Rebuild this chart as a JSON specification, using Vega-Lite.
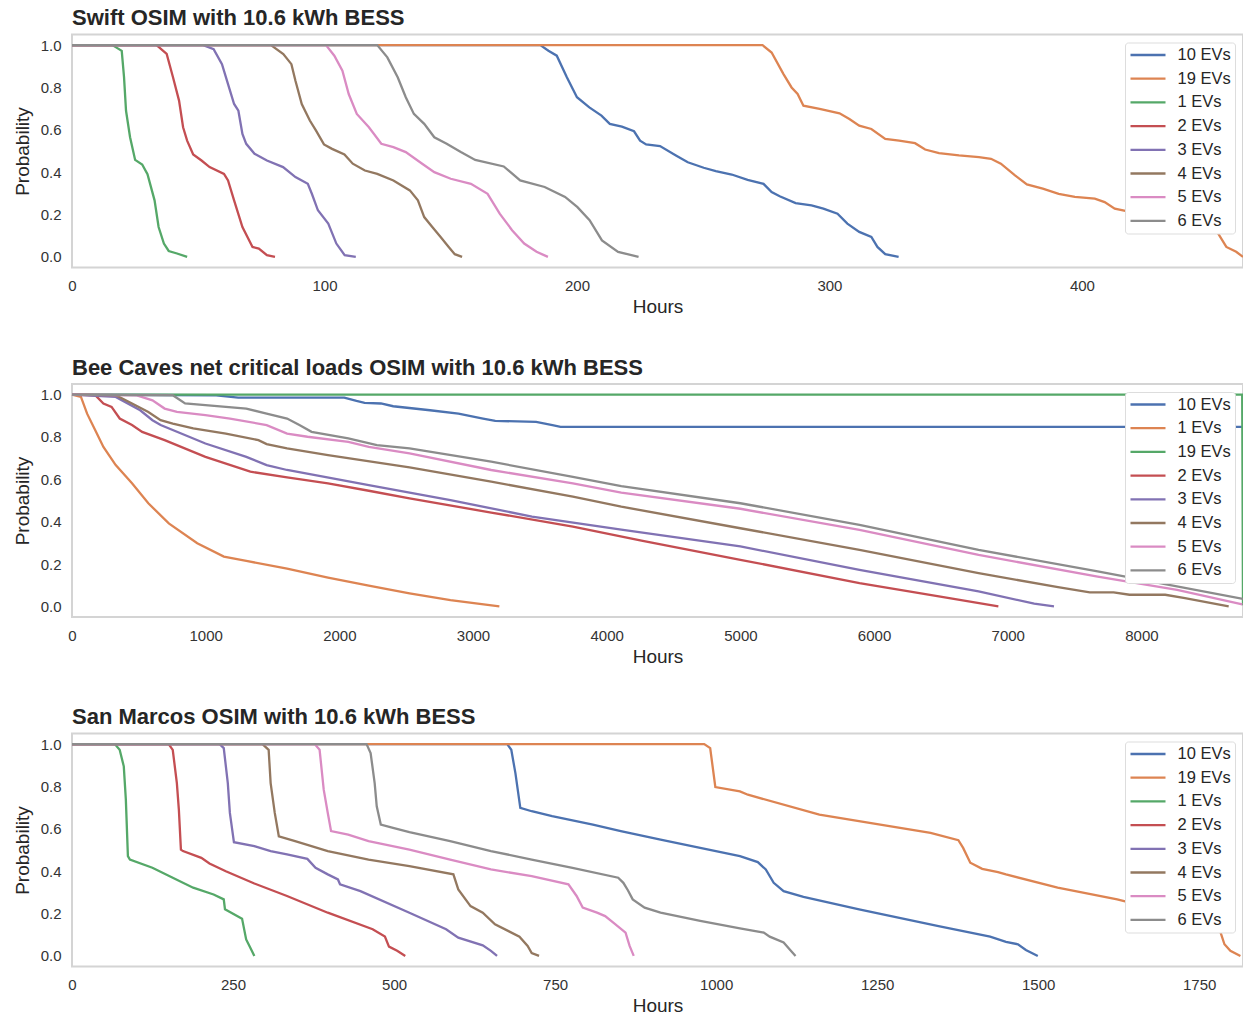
{
  "$schema": "https://vega.github.io/schema/vega-lite/v6.json",
  "background": "white",
  "padding": {"left": 12, "top": 5.5, "right": 1, "bottom": 0},
  "spacing": 37.5,
  "config": {
    "font": "Liberation Sans",
    "view": {"stroke": "#d4d4d4", "strokeWidth": 2},
    "axis": {"grid": false, "domain": false, "ticks": false, "labelFontSize": 15, "labelColor": "#333333", "titleFontSize": 19, "titleFontWeight": "normal", "titleColor": "#262626", "labelPadding": 11},
    "axisX": {"titlePadding": 4, "format": "d", "labelFlush": false},
    "axisY": {"titlePadding": 8},
    "title": {"fontSize": 22, "fontWeight": "bold", "anchor": "start", "frame": "group", "color": "#262626", "offset": 4.5},
    "legend": {"orient": "top-right", "offset": 8, "padding": 4, "fillColor": "white", "strokeColor": "#dddddd", "cornerRadius": 3, "labelFontSize": 16.5, "labelColor": "#262626", "symbolType": "stroke", "symbolSize": 1225, "symbolStrokeWidth": 2.5, "clipHeight": 17, "rowPadding": 6.7, "labelOffset": 10.5, "title": null},
    "line": {"strokeWidth": 2.3}
  },
  "resolve": {"scale": {"color": "independent", "x": "independent", "y": "independent"}, "legend": {"color": "independent"}},
  "datasets": {
    "swift": [
      {"s":"10 EVs","h":0,"p":1},{"s":"10 EVs","h":185.5,"p":1},{"s":"10 EVs","h":188.7,"p":0.973},{"s":"10 EVs","h":192,"p":0.95},{"s":"10 EVs","h":196,"p":0.848},{"s":"10 EVs","h":200,"p":0.754},{"s":"10 EVs","h":204.9,"p":0.706},{"s":"10 EVs","h":209.7,"p":0.667},{"s":"10 EVs","h":213,"p":0.628},{"s":"10 EVs","h":217.8,"p":0.615},{"s":"10 EVs","h":222.6,"p":0.593},{"s":"10 EVs","h":225,"p":0.549},{"s":"10 EVs","h":227.4,"p":0.531},{"s":"10 EVs","h":232.9,"p":0.523},{"s":"10 EVs","h":239.2,"p":0.479},{"s":"10 EVs","h":243.9,"p":0.447},{"s":"10 EVs","h":250.2,"p":0.421},{"s":"10 EVs","h":255,"p":0.405},{"s":"10 EVs","h":261.3,"p":0.389},{"s":"10 EVs","h":267.6,"p":0.364},{"s":"10 EVs","h":273.9,"p":0.345},{"s":"10 EVs","h":277.1,"p":0.306},{"s":"10 EVs","h":280.3,"p":0.286},{"s":"10 EVs","h":286.6,"p":0.254},{"s":"10 EVs","h":292.9,"p":0.243},{"s":"10 EVs","h":297.6,"p":0.228},{"s":"10 EVs","h":303.2,"p":0.204},{"s":"10 EVs","h":307.1,"p":0.157},{"s":"10 EVs","h":311.8,"p":0.118},{"s":"10 EVs","h":316.6,"p":0.094},{"s":"10 EVs","h":319,"p":0.047},{"s":"10 EVs","h":322.1,"p":0.013},{"s":"10 EVs","h":327.4,"p":0},
      {"s":"19 EVs","h":0,"p":1},{"s":"19 EVs","h":273.5,"p":1},{"s":"19 EVs","h":277.1,"p":0.965},{"s":"19 EVs","h":281.8,"p":0.863},{"s":"19 EVs","h":285,"p":0.8},{"s":"19 EVs","h":287.4,"p":0.769},{"s":"19 EVs","h":289.7,"p":0.714},{"s":"19 EVs","h":296.1,"p":0.699},{"s":"19 EVs","h":304,"p":0.678},{"s":"19 EVs","h":307.9,"p":0.651},{"s":"19 EVs","h":311.8,"p":0.62},{"s":"19 EVs","h":316.6,"p":0.604},{"s":"19 EVs","h":322.1,"p":0.557},{"s":"19 EVs","h":327.6,"p":0.549},{"s":"19 EVs","h":333.9,"p":0.537},{"s":"19 EVs","h":337.9,"p":0.507},{"s":"19 EVs","h":343.4,"p":0.49},{"s":"19 EVs","h":351.3,"p":0.479},{"s":"19 EVs","h":359.2,"p":0.471},{"s":"19 EVs","h":364,"p":0.463},{"s":"19 EVs","h":367.9,"p":0.44},{"s":"19 EVs","h":373.5,"p":0.385},{"s":"19 EVs","h":378.2,"p":0.342},{"s":"19 EVs","h":384.5,"p":0.322},{"s":"19 EVs","h":390.8,"p":0.298},{"s":"19 EVs","h":397.2,"p":0.283},{"s":"19 EVs","h":405.1,"p":0.275},{"s":"19 EVs","h":409,"p":0.259},{"s":"19 EVs","h":413,"p":0.228},{"s":"19 EVs","h":422.4,"p":0.204},{"s":"19 EVs","h":435.1,"p":0.192},{"s":"19 EVs","h":447.7,"p":0.173},{"s":"19 EVs","h":450.9,"p":0.149},{"s":"19 EVs","h":454,"p":0.11},{"s":"19 EVs","h":457.2,"p":0.047},{"s":"19 EVs","h":461.1,"p":0.024},{"s":"19 EVs","h":463.8,"p":0},
      {"s":"1 EVs","h":0,"p":1},{"s":"1 EVs","h":16,"p":1},{"s":"1 EVs","h":19.7,"p":0.973},{"s":"1 EVs","h":20.6,"p":0.85},{"s":"1 EVs","h":21.4,"p":0.69},{"s":"1 EVs","h":23,"p":0.565},{"s":"1 EVs","h":25,"p":0.458},{"s":"1 EVs","h":27.8,"p":0.436},{"s":"1 EVs","h":29.9,"p":0.39},{"s":"1 EVs","h":32.7,"p":0.267},{"s":"1 EVs","h":34.3,"p":0.141},{"s":"1 EVs","h":36.4,"p":0.063},{"s":"1 EVs","h":38.3,"p":0.028},{"s":"1 EVs","h":41.6,"p":0.016},{"s":"1 EVs","h":45.6,"p":0},
      {"s":"2 EVs","h":0,"p":1},{"s":"2 EVs","h":33.5,"p":1},{"s":"2 EVs","h":37.5,"p":0.958},{"s":"2 EVs","h":40,"p":0.848},{"s":"2 EVs","h":42.4,"p":0.738},{"s":"2 EVs","h":44,"p":0.612},{"s":"2 EVs","h":45.6,"p":0.549},{"s":"2 EVs","h":48,"p":0.484},{"s":"2 EVs","h":51.3,"p":0.455},{"s":"2 EVs","h":54.5,"p":0.424},{"s":"2 EVs","h":60.2,"p":0.392},{"s":"2 EVs","h":61.8,"p":0.361},{"s":"2 EVs","h":64.2,"p":0.267},{"s":"2 EVs","h":67.5,"p":0.141},{"s":"2 EVs","h":71.5,"p":0.047},{"s":"2 EVs","h":74,"p":0.039},{"s":"2 EVs","h":77.2,"p":0.008},{"s":"2 EVs","h":80.4,"p":0},
      {"s":"3 EVs","h":0,"p":1},{"s":"3 EVs","h":52,"p":1},{"s":"3 EVs","h":56.1,"p":0.981},{"s":"3 EVs","h":59.4,"p":0.91},{"s":"3 EVs","h":61.8,"p":0.816},{"s":"3 EVs","h":64.2,"p":0.722},{"s":"3 EVs","h":65.9,"p":0.69},{"s":"3 EVs","h":67.5,"p":0.581},{"s":"3 EVs","h":69,"p":0.534},{"s":"3 EVs","h":72.3,"p":0.487},{"s":"3 EVs","h":77.2,"p":0.455},{"s":"3 EVs","h":83.6,"p":0.424},{"s":"3 EVs","h":88.5,"p":0.377},{"s":"3 EVs","h":93.4,"p":0.345},{"s":"3 EVs","h":95,"p":0.298},{"s":"3 EVs","h":97.4,"p":0.22},{"s":"3 EVs","h":101.5,"p":0.157},{"s":"3 EVs","h":104.7,"p":0.063},{"s":"3 EVs","h":108,"p":0.008},{"s":"3 EVs","h":112.4,"p":0},
      {"s":"4 EVs","h":0,"p":1},{"s":"4 EVs","h":78.8,"p":1},{"s":"4 EVs","h":83.7,"p":0.958},{"s":"4 EVs","h":86.9,"p":0.91},{"s":"4 EVs","h":88.5,"p":0.832},{"s":"4 EVs","h":91,"p":0.722},{"s":"4 EVs","h":94.2,"p":0.644},{"s":"4 EVs","h":96.6,"p":0.597},{"s":"4 EVs","h":99.8,"p":0.531},{"s":"4 EVs","h":103,"p":0.51},{"s":"4 EVs","h":107.9,"p":0.484},{"s":"4 EVs","h":111.2,"p":0.44},{"s":"4 EVs","h":116,"p":0.408},{"s":"4 EVs","h":120.9,"p":0.392},{"s":"4 EVs","h":127.3,"p":0.361},{"s":"4 EVs","h":133.8,"p":0.314},{"s":"4 EVs","h":137,"p":0.267},{"s":"4 EVs","h":139.5,"p":0.188},{"s":"4 EVs","h":142.7,"p":0.141},{"s":"4 EVs","h":146,"p":0.094},{"s":"4 EVs","h":149.2,"p":0.047},{"s":"4 EVs","h":151.6,"p":0.013},{"s":"4 EVs","h":154.5,"p":0},
      {"s":"5 EVs","h":0,"p":1},{"s":"5 EVs","h":100.6,"p":1},{"s":"5 EVs","h":103.9,"p":0.95},{"s":"5 EVs","h":107.1,"p":0.879},{"s":"5 EVs","h":109.6,"p":0.769},{"s":"5 EVs","h":112.8,"p":0.675},{"s":"5 EVs","h":117.6,"p":0.612},{"s":"5 EVs","h":122.5,"p":0.534},{"s":"5 EVs","h":127.3,"p":0.518},{"s":"5 EVs","h":132.2,"p":0.495},{"s":"5 EVs","h":138.7,"p":0.44},{"s":"5 EVs","h":143.5,"p":0.4},{"s":"5 EVs","h":150,"p":0.369},{"s":"5 EVs","h":158,"p":0.345},{"s":"5 EVs","h":164.6,"p":0.298},{"s":"5 EVs","h":169.4,"p":0.204},{"s":"5 EVs","h":174.3,"p":0.126},{"s":"5 EVs","h":179.1,"p":0.063},{"s":"5 EVs","h":184,"p":0.024},{"s":"5 EVs","h":188.5,"p":0},
      {"s":"6 EVs","h":0,"p":1},{"s":"6 EVs","h":120.9,"p":1},{"s":"6 EVs","h":124.9,"p":0.942},{"s":"6 EVs","h":129,"p":0.848},{"s":"6 EVs","h":132.2,"p":0.754},{"s":"6 EVs","h":135.4,"p":0.675},{"s":"6 EVs","h":139.5,"p":0.628},{"s":"6 EVs","h":143.5,"p":0.565},{"s":"6 EVs","h":148.4,"p":0.534},{"s":"6 EVs","h":154,"p":0.495},{"s":"6 EVs","h":159.7,"p":0.458},{"s":"6 EVs","h":171,"p":0.427},{"s":"6 EVs","h":177.5,"p":0.361},{"s":"6 EVs","h":187.2,"p":0.33},{"s":"6 EVs","h":195.3,"p":0.283},{"s":"6 EVs","h":200.2,"p":0.235},{"s":"6 EVs","h":205,"p":0.173},{"s":"6 EVs","h":209.9,"p":0.078},{"s":"6 EVs","h":216.3,"p":0.024},{"s":"6 EVs","h":224.4,"p":0}
    ],
    "bee": [
      {"s":"10 EVs","h":0,"p":1},{"s":"10 EVs","h":1060,"p":0.997},{"s":"10 EVs","h":1243,"p":0.986},{"s":"10 EVs","h":2037,"p":0.986},{"s":"10 EVs","h":2128,"p":0.97},{"s":"10 EVs","h":2189,"p":0.961},{"s":"10 EVs","h":2311,"p":0.958},{"s":"10 EVs","h":2403,"p":0.945},{"s":"10 EVs","h":2678,"p":0.926},{"s":"10 EVs","h":2891,"p":0.91},{"s":"10 EVs","h":3075,"p":0.887},{"s":"10 EVs","h":3166,"p":0.876},{"s":"10 EVs","h":3472,"p":0.871},{"s":"10 EVs","h":3594,"p":0.856},{"s":"10 EVs","h":3655,"p":0.848},{"s":"10 EVs","h":8760,"p":0.848},
      {"s":"1 EVs","h":0,"p":1},{"s":"1 EVs","h":67,"p":0.989},{"s":"1 EVs","h":113,"p":0.91},{"s":"1 EVs","h":174,"p":0.832},{"s":"1 EVs","h":235,"p":0.753},{"s":"1 EVs","h":327,"p":0.667},{"s":"1 EVs","h":449,"p":0.581},{"s":"1 EVs","h":571,"p":0.487},{"s":"1 EVs","h":724,"p":0.392},{"s":"1 EVs","h":937,"p":0.298},{"s":"1 EVs","h":1136,"p":0.235},{"s":"1 EVs","h":1304,"p":0.215},{"s":"1 EVs","h":1609,"p":0.178},{"s":"1 EVs","h":1915,"p":0.136},{"s":"1 EVs","h":2220,"p":0.098},{"s":"1 EVs","h":2525,"p":0.062},{"s":"1 EVs","h":2831,"p":0.03},{"s":"1 EVs","h":3197,"p":0},
      {"s":"19 EVs","h":0,"p":1},{"s":"19 EVs","h":8754,"p":1},{"s":"19 EVs","h":8760,"p":0.005},
      {"s":"2 EVs","h":0,"p":1},{"s":"2 EVs","h":174,"p":0.997},{"s":"2 EVs","h":235,"p":0.958},{"s":"2 EVs","h":296,"p":0.942},{"s":"2 EVs","h":357,"p":0.887},{"s":"2 EVs","h":449,"p":0.856},{"s":"2 EVs","h":525,"p":0.824},{"s":"2 EVs","h":693,"p":0.785},{"s":"2 EVs","h":998,"p":0.706},{"s":"2 EVs","h":1334,"p":0.636},{"s":"2 EVs","h":1609,"p":0.609},{"s":"2 EVs","h":1915,"p":0.581},{"s":"2 EVs","h":2220,"p":0.546},{"s":"2 EVs","h":2525,"p":0.51},{"s":"2 EVs","h":3136,"p":0.443},{"s":"2 EVs","h":3747,"p":0.377},{"s":"2 EVs","h":4260,"p":0.31},{"s":"2 EVs","h":5000,"p":0.22},{"s":"2 EVs","h":5891,"p":0.11},{"s":"2 EVs","h":6485,"p":0.047},{"s":"2 EVs","h":6930,"p":0},
      {"s":"3 EVs","h":0,"p":1},{"s":"3 EVs","h":327,"p":0.989},{"s":"3 EVs","h":510,"p":0.926},{"s":"3 EVs","h":602,"p":0.879},{"s":"3 EVs","h":663,"p":0.856},{"s":"3 EVs","h":998,"p":0.769},{"s":"3 EVs","h":1304,"p":0.706},{"s":"3 EVs","h":1456,"p":0.667},{"s":"3 EVs","h":1609,"p":0.644},{"s":"3 EVs","h":2220,"p":0.573},{"s":"3 EVs","h":2831,"p":0.502},{"s":"3 EVs","h":3441,"p":0.424},{"s":"3 EVs","h":4109,"p":0.362},{"s":"3 EVs","h":5000,"p":0.283},{"s":"3 EVs","h":5891,"p":0.173},{"s":"3 EVs","h":6782,"p":0.071},{"s":"3 EVs","h":7198,"p":0.013},{"s":"3 EVs","h":7346,"p":0},
      {"s":"4 EVs","h":0,"p":1},{"s":"4 EVs","h":327,"p":0.997},{"s":"4 EVs","h":449,"p":0.958},{"s":"4 EVs","h":571,"p":0.918},{"s":"4 EVs","h":663,"p":0.879},{"s":"4 EVs","h":754,"p":0.863},{"s":"4 EVs","h":907,"p":0.84},{"s":"4 EVs","h":1151,"p":0.816},{"s":"4 EVs","h":1395,"p":0.785},{"s":"4 EVs","h":1456,"p":0.766},{"s":"4 EVs","h":1609,"p":0.746},{"s":"4 EVs","h":1915,"p":0.714},{"s":"4 EVs","h":2525,"p":0.656},{"s":"4 EVs","h":3136,"p":0.589},{"s":"4 EVs","h":3747,"p":0.518},{"s":"4 EVs","h":4109,"p":0.471},{"s":"4 EVs","h":5000,"p":0.369},{"s":"4 EVs","h":5891,"p":0.267},{"s":"4 EVs","h":6782,"p":0.157},{"s":"4 EVs","h":7376,"p":0.091},{"s":"4 EVs","h":7614,"p":0.066},{"s":"4 EVs","h":7792,"p":0.066},{"s":"4 EVs","h":7911,"p":0.055},{"s":"4 EVs","h":8178,"p":0.055},{"s":"4 EVs","h":8326,"p":0.039},{"s":"4 EVs","h":8653,"p":0},
      {"s":"5 EVs","h":0,"p":1},{"s":"5 EVs","h":479,"p":0.997},{"s":"5 EVs","h":602,"p":0.973},{"s":"5 EVs","h":693,"p":0.934},{"s":"5 EVs","h":785,"p":0.918},{"s":"5 EVs","h":998,"p":0.903},{"s":"5 EVs","h":1182,"p":0.887},{"s":"5 EVs","h":1456,"p":0.856},{"s":"5 EVs","h":1609,"p":0.816},{"s":"5 EVs","h":1762,"p":0.801},{"s":"5 EVs","h":2067,"p":0.777},{"s":"5 EVs","h":2220,"p":0.753},{"s":"5 EVs","h":2525,"p":0.722},{"s":"5 EVs","h":3136,"p":0.644},{"s":"5 EVs","h":3747,"p":0.581},{"s":"5 EVs","h":4109,"p":0.537},{"s":"5 EVs","h":5000,"p":0.461},{"s":"5 EVs","h":5891,"p":0.361},{"s":"5 EVs","h":6782,"p":0.243},{"s":"5 EVs","h":7673,"p":0.141},{"s":"5 EVs","h":8267,"p":0.078},{"s":"5 EVs","h":8755,"p":0.01},
      {"s":"6 EVs","h":0,"p":1},{"s":"6 EVs","h":754,"p":0.997},{"s":"6 EVs","h":846,"p":0.958},{"s":"6 EVs","h":998,"p":0.95},{"s":"6 EVs","h":1304,"p":0.934},{"s":"6 EVs","h":1456,"p":0.91},{"s":"6 EVs","h":1609,"p":0.887},{"s":"6 EVs","h":1701,"p":0.856},{"s":"6 EVs","h":1792,"p":0.824},{"s":"6 EVs","h":2067,"p":0.793},{"s":"6 EVs","h":2281,"p":0.761},{"s":"6 EVs","h":2525,"p":0.746},{"s":"6 EVs","h":3136,"p":0.683},{"s":"6 EVs","h":3747,"p":0.612},{"s":"6 EVs","h":4109,"p":0.568},{"s":"6 EVs","h":5000,"p":0.487},{"s":"6 EVs","h":5891,"p":0.385},{"s":"6 EVs","h":6782,"p":0.267},{"s":"6 EVs","h":7673,"p":0.165},{"s":"6 EVs","h":8760,"p":0.035}
    ],
    "sanm": [
      {"s":"10 EVs","h":0,"p":1},{"s":"10 EVs","h":675.7,"p":1},{"s":"10 EVs","h":682,"p":0.973},{"s":"10 EVs","h":688.4,"p":0.863},{"s":"10 EVs","h":696,"p":0.699},{"s":"10 EVs","h":713.7,"p":0.683},{"s":"10 EVs","h":745.4,"p":0.66},{"s":"10 EVs","h":808.7,"p":0.62},{"s":"10 EVs","h":852,"p":0.589},{"s":"10 EVs","h":913.7,"p":0.549},{"s":"10 EVs","h":975.3,"p":0.51},{"s":"10 EVs","h":1037,"p":0.471},{"s":"10 EVs","h":1064.7,"p":0.443},{"s":"10 EVs","h":1077.1,"p":0.408},{"s":"10 EVs","h":1089.4,"p":0.345},{"s":"10 EVs","h":1104.8,"p":0.306},{"s":"10 EVs","h":1135.6,"p":0.279},{"s":"10 EVs","h":1222,"p":0.22},{"s":"10 EVs","h":1345.3,"p":0.141},{"s":"10 EVs","h":1425.4,"p":0.091},{"s":"10 EVs","h":1450,"p":0.066},{"s":"10 EVs","h":1468.6,"p":0.055},{"s":"10 EVs","h":1480.9,"p":0.028},{"s":"10 EVs","h":1499.4,"p":0},
      {"s":"19 EVs","h":0,"p":1},{"s":"19 EVs","h":981.5,"p":1},{"s":"19 EVs","h":990.8,"p":0.981},{"s":"19 EVs","h":998.8,"p":0.797},{"s":"19 EVs","h":1037,"p":0.777},{"s":"19 EVs","h":1049.3,"p":0.761},{"s":"19 EVs","h":1160.3,"p":0.667},{"s":"19 EVs","h":1332.9,"p":0.581},{"s":"19 EVs","h":1376.1,"p":0.546},{"s":"19 EVs","h":1383.5,"p":0.51},{"s":"19 EVs","h":1394.6,"p":0.44},{"s":"19 EVs","h":1413.1,"p":0.411},{"s":"19 EVs","h":1437.7,"p":0.396},{"s":"19 EVs","h":1450,"p":0.385},{"s":"19 EVs","h":1530.2,"p":0.322},{"s":"19 EVs","h":1622.7,"p":0.267},{"s":"19 EVs","h":1715.2,"p":0.196},{"s":"19 EVs","h":1779.9,"p":0.141},{"s":"19 EVs","h":1789.2,"p":0.055},{"s":"19 EVs","h":1798.4,"p":0.024},{"s":"19 EVs","h":1814,"p":0},
      {"s":"1 EVs","h":0,"p":1},{"s":"1 EVs","h":66.5,"p":1},{"s":"1 EVs","h":74,"p":0.973},{"s":"1 EVs","h":80.4,"p":0.895},{"s":"1 EVs","h":83.6,"p":0.738},{"s":"1 EVs","h":86.8,"p":0.471},{"s":"1 EVs","h":89.9,"p":0.455},{"s":"1 EVs","h":124.8,"p":0.416},{"s":"1 EVs","h":156.4,"p":0.369},{"s":"1 EVs","h":188.1,"p":0.322},{"s":"1 EVs","h":219.8,"p":0.29},{"s":"1 EVs","h":235.6,"p":0.267},{"s":"1 EVs","h":237.5,"p":0.22},{"s":"1 EVs","h":264,"p":0.176},{"s":"1 EVs","h":270.4,"p":0.078},{"s":"1 EVs","h":278,"p":0.031},{"s":"1 EVs","h":283.1,"p":0},
      {"s":"2 EVs","h":0,"p":1},{"s":"2 EVs","h":150,"p":1},{"s":"2 EVs","h":156.4,"p":0.973},{"s":"2 EVs","h":162.8,"p":0.816},{"s":"2 EVs","h":165.9,"p":0.691},{"s":"2 EVs","h":169.1,"p":0.502},{"s":"2 EVs","h":172.3,"p":0.495},{"s":"2 EVs","h":200.8,"p":0.463},{"s":"2 EVs","h":213.4,"p":0.436},{"s":"2 EVs","h":238.8,"p":0.4},{"s":"2 EVs","h":283.1,"p":0.342},{"s":"2 EVs","h":333.8,"p":0.283},{"s":"2 EVs","h":397.1,"p":0.204},{"s":"2 EVs","h":466.8,"p":0.126},{"s":"2 EVs","h":485.8,"p":0.091},{"s":"2 EVs","h":492.1,"p":0.044},{"s":"2 EVs","h":504.8,"p":0.024},{"s":"2 EVs","h":517.4,"p":0},
      {"s":"3 EVs","h":0,"p":1},{"s":"3 EVs","h":229.3,"p":1},{"s":"3 EVs","h":235.6,"p":0.981},{"s":"3 EVs","h":241.9,"p":0.816},{"s":"3 EVs","h":245.1,"p":0.675},{"s":"3 EVs","h":251.4,"p":0.537},{"s":"3 EVs","h":283.1,"p":0.518},{"s":"3 EVs","h":308.4,"p":0.495},{"s":"3 EVs","h":333.8,"p":0.479},{"s":"3 EVs","h":365.4,"p":0.458},{"s":"3 EVs","h":378.1,"p":0.416},{"s":"3 EVs","h":397.1,"p":0.385},{"s":"3 EVs","h":412.9,"p":0.361},{"s":"3 EVs","h":416.1,"p":0.338},{"s":"3 EVs","h":447.8,"p":0.306},{"s":"3 EVs","h":523.8,"p":0.204},{"s":"3 EVs","h":580.8,"p":0.126},{"s":"3 EVs","h":599.7,"p":0.086},{"s":"3 EVs","h":637.7,"p":0.05},{"s":"3 EVs","h":650.4,"p":0.024},{"s":"3 EVs","h":659.9,"p":0},
      {"s":"4 EVs","h":0,"p":1},{"s":"4 EVs","h":295.8,"p":1},{"s":"4 EVs","h":305.3,"p":0.973},{"s":"4 EVs","h":308.4,"p":0.816},{"s":"4 EVs","h":314.8,"p":0.675},{"s":"4 EVs","h":321.1,"p":0.565},{"s":"4 EVs","h":346.4,"p":0.542},{"s":"4 EVs","h":397.1,"p":0.495},{"s":"4 EVs","h":460.4,"p":0.455},{"s":"4 EVs","h":523.8,"p":0.424},{"s":"4 EVs","h":592.1,"p":0.385},{"s":"4 EVs","h":599.7,"p":0.314},{"s":"4 EVs","h":618.7,"p":0.235},{"s":"4 EVs","h":637.7,"p":0.204},{"s":"4 EVs","h":656.7,"p":0.149},{"s":"4 EVs","h":694.7,"p":0.091},{"s":"4 EVs","h":707.4,"p":0.047},{"s":"4 EVs","h":713.7,"p":0.013},{"s":"4 EVs","h":725.1,"p":0},
      {"s":"5 EVs","h":0,"p":1},{"s":"5 EVs","h":376.8,"p":1},{"s":"5 EVs","h":384.4,"p":0.973},{"s":"5 EVs","h":390.8,"p":0.785},{"s":"5 EVs","h":397.1,"p":0.675},{"s":"5 EVs","h":402.2,"p":0.589},{"s":"5 EVs","h":428.8,"p":0.573},{"s":"5 EVs","h":460.4,"p":0.542},{"s":"5 EVs","h":523.8,"p":0.502},{"s":"5 EVs","h":587.1,"p":0.455},{"s":"5 EVs","h":650.4,"p":0.408},{"s":"5 EVs","h":713.7,"p":0.377},{"s":"5 EVs","h":770.7,"p":0.338},{"s":"5 EVs","h":783.4,"p":0.283},{"s":"5 EVs","h":792.9,"p":0.228},{"s":"5 EVs","h":815.1,"p":0.204},{"s":"5 EVs","h":827.7,"p":0.188},{"s":"5 EVs","h":840.4,"p":0.157},{"s":"5 EVs","h":859.4,"p":0.11},{"s":"5 EVs","h":865.7,"p":0.047},{"s":"5 EVs","h":872.1,"p":0},
      {"s":"6 EVs","h":0,"p":1},{"s":"6 EVs","h":457.3,"p":1},{"s":"6 EVs","h":463.6,"p":0.958},{"s":"6 EVs","h":469.9,"p":0.816},{"s":"6 EVs","h":473.1,"p":0.706},{"s":"6 EVs","h":479.4,"p":0.62},{"s":"6 EVs","h":498.4,"p":0.604},{"s":"6 EVs","h":523.8,"p":0.584},{"s":"6 EVs","h":587.1,"p":0.542},{"s":"6 EVs","h":650.4,"p":0.495},{"s":"6 EVs","h":713.7,"p":0.455},{"s":"6 EVs","h":777,"p":0.416},{"s":"6 EVs","h":848,"p":0.369},{"s":"6 EVs","h":856,"p":0.345},{"s":"6 EVs","h":863,"p":0.31},{"s":"6 EVs","h":870.5,"p":0.267},{"s":"6 EVs","h":889,"p":0.228},{"s":"6 EVs","h":913.7,"p":0.204},{"s":"6 EVs","h":975.3,"p":0.165},{"s":"6 EVs","h":1037,"p":0.13},{"s":"6 EVs","h":1074,"p":0.11},{"s":"6 EVs","h":1083.2,"p":0.091},{"s":"6 EVs","h":1104.8,"p":0.063},{"s":"6 EVs","h":1114,"p":0.031},{"s":"6 EVs","h":1123.3,"p":0}
    ]
  },
  "vconcat": [
    {
      "title": "Swift OSIM with 10.6 kWh BESS",
      "width": 1171, "height": 233,
      "data": {"name": "swift"},
      "mark": {"type": "line", "strokeWidth": 2.3},
      "encoding": {
        "x": {"field": "h", "type": "quantitative", "title": "Hours", "scale": {"domain": [0, 463.8], "nice": false, "zero": false}, "axis": {"values": [0, 100, 200, 300, 400]}},
        "y": {"field": "p", "type": "quantitative", "title": "Probability", "scale": {"domain": [-0.05, 1.05], "nice": false, "zero": false}, "axis": {"values": [0, 0.2, 0.4, 0.6, 0.8, 1], "format": ".1f"}},
        "color": {"field": "s", "type": "nominal", "sort": null, "scale": {"domain": ["10 EVs","19 EVs","1 EVs","2 EVs","3 EVs","4 EVs","5 EVs","6 EVs"], "range": ["#4C72B0","#DD8452","#55A868","#C44E52","#8172B3","#937860","#DA8BC3","#8C8C8C"]}, "legend": {"title": null}}
      }
    },
    {
      "title": "Bee Caves net critical loads OSIM with 10.6 kWh BESS",
      "width": 1171, "height": 233,
      "data": {"name": "bee"},
      "mark": {"type": "line", "strokeWidth": 2.3},
      "encoding": {
        "x": {"field": "h", "type": "quantitative", "title": "Hours", "scale": {"domain": [0, 8760], "nice": false, "zero": false}, "axis": {"values": [0, 1000, 2000, 3000, 4000, 5000, 6000, 7000, 8000]}},
        "y": {"field": "p", "type": "quantitative", "title": "Probability", "scale": {"domain": [-0.05, 1.05], "nice": false, "zero": false}, "axis": {"values": [0, 0.2, 0.4, 0.6, 0.8, 1], "format": ".1f"}},
        "color": {"field": "s", "type": "nominal", "sort": null, "scale": {"domain": ["10 EVs","1 EVs","19 EVs","2 EVs","3 EVs","4 EVs","5 EVs","6 EVs"], "range": ["#4C72B0","#DD8452","#55A868","#C44E52","#8172B3","#937860","#DA8BC3","#8C8C8C"]}, "legend": {"title": null}}
      }
    },
    {
      "title": "San Marcos OSIM with 10.6 kWh BESS",
      "width": 1171, "height": 233,
      "data": {"name": "sanm"},
      "mark": {"type": "line", "strokeWidth": 2.3},
      "encoding": {
        "x": {"field": "h", "type": "quantitative", "title": "Hours", "scale": {"domain": [0, 1818], "nice": false, "zero": false}, "axis": {"values": [0, 250, 500, 750, 1000, 1250, 1500, 1750]}},
        "y": {"field": "p", "type": "quantitative", "title": "Probability", "scale": {"domain": [-0.05, 1.05], "nice": false, "zero": false}, "axis": {"values": [0, 0.2, 0.4, 0.6, 0.8, 1], "format": ".1f"}},
        "color": {"field": "s", "type": "nominal", "sort": null, "scale": {"domain": ["10 EVs","19 EVs","1 EVs","2 EVs","3 EVs","4 EVs","5 EVs","6 EVs"], "range": ["#4C72B0","#DD8452","#55A868","#C44E52","#8172B3","#937860","#DA8BC3","#8C8C8C"]}, "legend": {"title": null}}
      }
    }
  ]
}
